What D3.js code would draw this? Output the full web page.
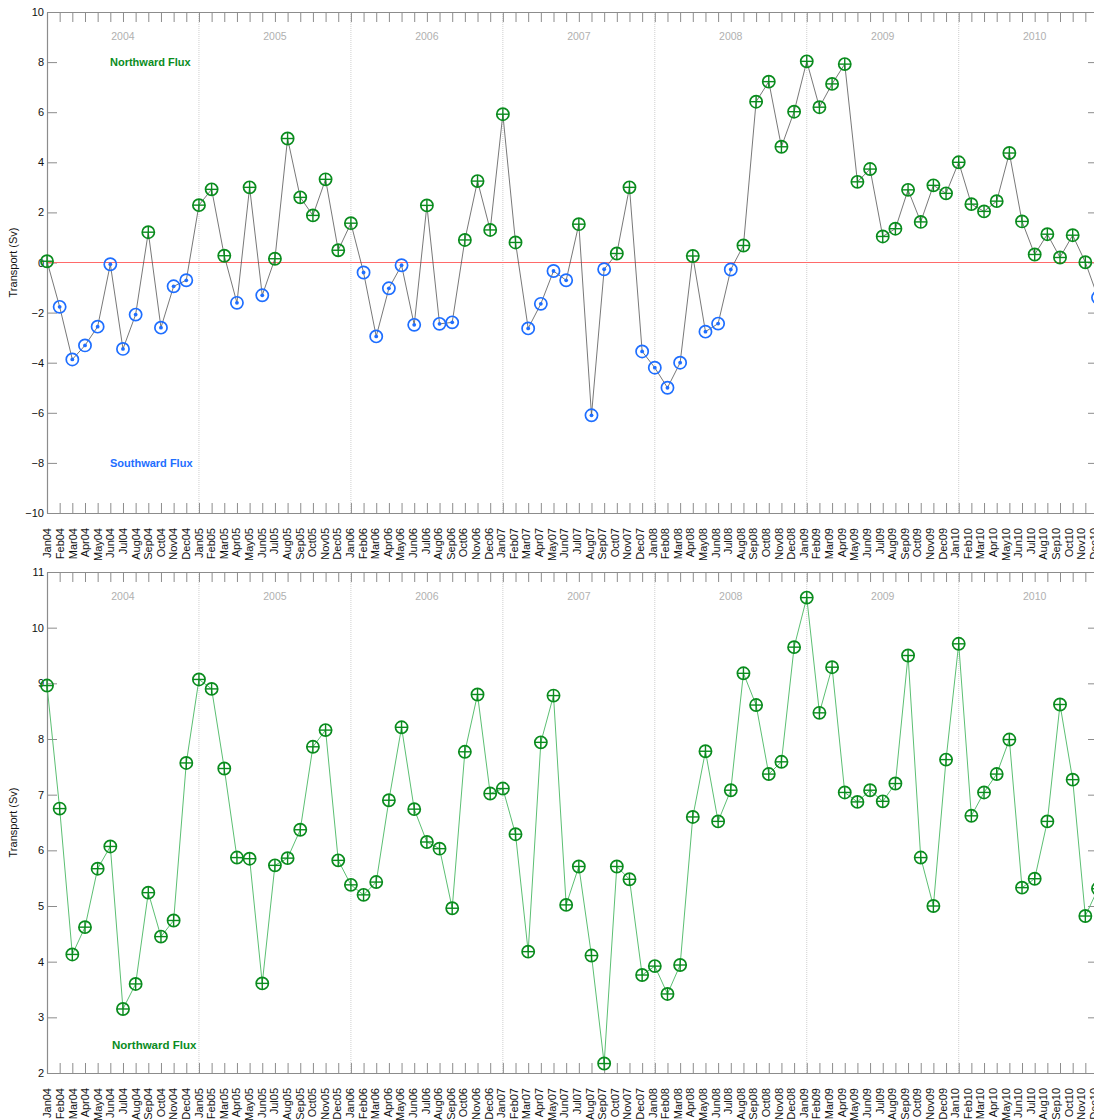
<!DOCTYPE html>
<html>
<head>
<meta charset="utf-8">
<script src="https://cdn.jsdelivr.net/npm/d3@7"></script>
<style>
  body { margin: 0; background: #fff; }
  svg { display: block; }
  text { font-family: "Liberation Sans", Arial, Helvetica, sans-serif; }
</style>
</head>
<body>
<svg id="chart" width="1094" height="1120"></svg>
<script>
// Monthly categories, Jan 2004 .. Dec 2010
const monthNames = ["Jan","Feb","Mar","Apr","May","Jun","Jul","Aug","Sep","Oct","Nov","Dec"];
const yearCodes = ["04","05","06","07","08","09","10"];
const yearLabels = ["2004","2005","2006","2007","2008","2009","2010"];

// Net transport (Sv): positive = northward, negative = southward
const netTransport = [
   0.05, -1.77, -3.87, -3.31, -2.56, -0.07, -3.45, -2.08,  1.21, -2.60, -0.95, -0.71,
   2.29,  2.92,  0.27, -1.61,  3.00, -1.31,  0.15,  4.95,  2.60,  1.88,  3.32,  0.49,
   1.57, -0.40, -2.95, -1.03, -0.11, -2.49,  2.28, -2.45, -2.39,  0.90,  3.25,  1.30,
   5.92,  0.80, -2.63, -1.65, -0.34, -0.71,  1.53, -6.10, -0.27,  0.36,  3.00, -3.55,
  -4.20, -5.00, -4.00,  0.26, -2.76, -2.44, -0.28,  0.68,  6.42,  7.22,  4.62,  6.02,
   8.03,  6.20,  7.13,  7.92,  3.22,  3.73,  1.04,  1.35,  2.90,  1.62,  3.08,  2.76,
   4.00,  2.33,  2.04,  2.45,  4.37,  1.64,  0.32,  1.13,  0.20,  1.09,  0.01, -1.40
];

// Northward flux (Sv)
const northTransport = [
  8.96, 6.75, 4.13, 4.62, 5.67, 6.07, 3.15, 3.60, 5.24, 4.45, 4.74, 7.57,
  9.07, 8.90, 7.47, 5.87, 5.85, 3.61, 5.73, 5.86, 6.37, 7.86, 8.16, 5.82,
  5.38, 5.20, 5.43, 6.90, 8.21, 6.74, 6.15, 6.03, 4.96, 7.77, 8.80, 7.02,
  7.11, 6.29, 4.18, 7.94, 8.78, 5.02, 5.71, 4.11, 2.17, 5.71, 5.48, 3.76,
  3.92, 3.42, 3.94, 6.60, 7.78, 6.52, 7.08, 9.18, 8.61, 7.37, 7.59, 9.65,
  10.54, 8.47, 9.29, 7.04, 6.87, 7.08, 6.88, 7.20, 9.50, 5.87, 5.00, 7.63,
  9.71, 6.62, 7.04, 7.37, 7.99, 5.33, 5.49, 6.52, 8.62, 7.27, 4.82, 5.31
];

const netTicks = [-10, -8, -6, -4, -2, 0, 2, 4, 6, 8, 10];
const northTicks = [2, 3, 4, 5, 6, 7, 8, 9, 10, 11];

const monthLabels = yearCodes.flatMap(yc => monthNames.map(m => m + yc));

const GREEN = "#0a8c1e";
const BLUE = "#1e6eff";
const AXIS = "#8c8c8c";

const svg = d3.select("#chart");
const plotLeft = 47, plotRight = 1098;

const x = d3.scalePoint().domain(monthLabels).range([plotLeft, plotRight]);
// month captions are laid out on a slightly tighter spacing than the ticks
const xLabel = d3.scalePoint().domain(monthLabels).range([plotLeft, plotRight - 4.5]);

function drawPanel(cfg) {
  const y = d3.scaleLinear().domain(cfg.domain).range([cfg.bottom, cfg.top]);
  const g = svg.append("g");

  // year separators and year captions
  yearLabels.forEach((yl, i) => {
    if (i > 0) {
      const xx = x(monthLabels[i * 12]);
      g.append("line")
        .attr("x1", xx).attr("x2", xx)
        .attr("y1", cfg.top).attr("y2", cfg.bottom)
        .attr("stroke", "#cfcfcf").attr("stroke-width", 1)
        .attr("stroke-dasharray", "1,1");
    }
    g.append("text")
      .attr("x", x(monthLabels[i * 12 + 6]))
      .attr("y", cfg.top + 28)
      .attr("text-anchor", "middle")
      .attr("font-size", "10.5px")
      .attr("fill", "#b0b0b0")
      .text(yl);
  });

  // axes on all four sides, ticks pointing inward
  const axL = g.append("g").attr("transform", `translate(${plotLeft},0)`)
    .call(d3.axisLeft(y).tickValues(cfg.ticks).tickSize(-10).tickSizeOuter(0).tickPadding(3).tickFormat(d3.format("d")));
  const axR = g.append("g").attr("transform", `translate(${plotRight},0)`)
    .call(d3.axisRight(y).tickValues(cfg.ticks).tickSize(-10).tickSizeOuter(0).tickFormat(""));
  const axT = g.append("g").attr("transform", `translate(0,${cfg.top})`)
    .call(d3.axisTop(x).tickSize(-10).tickSizeOuter(0).tickFormat(""));
  const axB = g.append("g").attr("transform", `translate(0,${cfg.bottom})`)
    .call(d3.axisBottom(x).tickSize(-10).tickSizeOuter(0));

  [axL, axR, axT, axB].forEach(a => {
    a.select(".domain").attr("stroke", AXIS).attr("stroke-width", 1.2);
    a.selectAll(".tick line").attr("stroke", AXIS).attr("stroke-width", 1);
    a.selectAll("text").attr("font-size", "11px").attr("fill", "#111")
      .attr("font-family", "\"Liberation Sans\", Arial, sans-serif");
  });
  // rotated month captions (local y maps to screen x after the rotation)
  axB.selectAll(".tick text")
    .attr("transform", "rotate(-90)")
    .attr("x", -15)
    .attr("y", d => xLabel(d) - x(d))
    .attr("dy", "0.35em")
    .attr("text-anchor", "end");

  // y axis title
  g.append("text")
    .attr("transform", `translate(17,${(cfg.top + cfg.bottom) / 2}) rotate(-90)`)
    .attr("text-anchor", "middle")
    .attr("font-size", "11px")
    .attr("fill", "#111")
    .text("Transport (Sv)");

  return { g, y };
}

function drawPlus(g, px, py) {
  const r = 6.1;
  const m = g.append("g").attr("transform", `translate(${px},${py})`);
  m.append("circle").attr("r", r).attr("fill", "none").attr("stroke", GREEN).attr("stroke-width", 1.7);
  m.append("line").attr("x1", -r).attr("x2", r).attr("stroke", GREEN).attr("stroke-width", 1.4);
  m.append("line").attr("y1", -r).attr("y2", r).attr("stroke", GREEN).attr("stroke-width", 1.4);
}

function drawDot(g, px, py) {
  const m = g.append("g").attr("transform", `translate(${px},${py})`);
  m.append("circle").attr("r", 6.1).attr("fill", "none").attr("stroke", BLUE).attr("stroke-width", 1.7);
  m.append("circle").attr("r", 1.9).attr("fill", BLUE);
}

// ---- Upper panel: net transport ----
const netPanel = drawPanel({ top: 12, bottom: 513, domain: [-10, 10], ticks: netTicks });

netPanel.g.append("line")
  .attr("x1", plotLeft).attr("x2", plotRight)
  .attr("y1", netPanel.y(0)).attr("y2", netPanel.y(0))
  .attr("stroke", "#ff6a6a").attr("stroke-width", 1);

netPanel.g.append("path")
  .datum(netTransport)
  .attr("fill", "none")
  .attr("stroke", "#555")
  .attr("stroke-width", 0.8)
  .attr("d", d3.line().x((d, i) => x(monthLabels[i])).y(d => netPanel.y(d)));

netTransport.forEach((v, i) => {
  if (v >= 0) drawPlus(netPanel.g, x(monthLabels[i]), netPanel.y(v));
  else drawDot(netPanel.g, x(monthLabels[i]), netPanel.y(v));
});

netPanel.g.append("text").attr("x", 110).attr("y", 66)
  .attr("font-size", "11px").attr("font-weight", "bold").attr("fill", GREEN)
  .text("Northward Flux");
netPanel.g.append("text").attr("x", 110).attr("y", 467)
  .attr("font-size", "11px").attr("font-weight", "bold").attr("fill", BLUE)
  .text("Southward Flux");

// ---- Lower panel: northward flux ----
const northPanel = drawPanel({ top: 572, bottom: 1073, domain: [2, 11], ticks: northTicks });

northPanel.g.append("path")
  .datum(northTransport)
  .attr("fill", "none")
  .attr("stroke", "#5cbf73")
  .attr("stroke-width", 1)
  .attr("d", d3.line().x((d, i) => x(monthLabels[i])).y(d => northPanel.y(d)));

northTransport.forEach((v, i) => drawPlus(northPanel.g, x(monthLabels[i]), northPanel.y(v)));

northPanel.g.append("text").attr("x", 112).attr("y", 1049)
  .attr("font-size", "11.5px").attr("font-weight", "bold").attr("fill", GREEN)
  .text("Northward Flux");
</script>
</body>
</html>
